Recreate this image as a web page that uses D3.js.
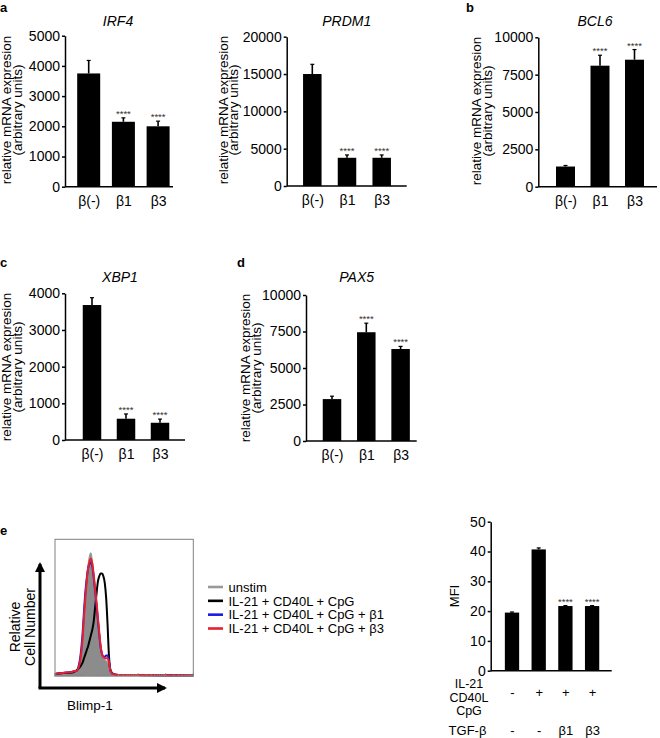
<!DOCTYPE html>
<html><head><meta charset="utf-8">
<script src="https://cdn.jsdelivr.net/npm/d3@7"></script>
<style>
body{margin:0;background:#fff}
text{font-family:"Liberation Sans",Arial,Helvetica,sans-serif;fill:#000}
</style>
</head><body>
<svg id="chart" width="660" height="738"></svg>
<script>
// ---------- DATA ----------
const groups = ["β(-)", "β1", "β3"];
const sigLabels = ["", "****", "****"];

const irf4Values = [3750, 2150, 2000];
const irf4Errors = [430, 130, 170];
const irf4Ticks = [0, 1000, 2000, 3000, 4000, 5000];

const prdm1Values = [15000, 3780, 3780];
const prdm1Errors = [1300, 380, 380];
const prdm1Ticks = [0, 5000, 10000, 15000, 20000];

const bcl6Values = [1350, 8100, 8500];
const bcl6Errors = [70, 700, 680];
const bcl6Ticks = [0, 2500, 5000, 7500, 10000];

const xbp1Values = [3680, 580, 470];
const xbp1Errors = [200, 130, 100];
const xbp1Ticks = [0, 1000, 2000, 3000, 4000];

const pax5Values = [2870, 7450, 6300];
const pax5Errors = [200, 620, 180];
const pax5Ticks = [0, 2500, 5000, 7500, 10000];

const mfiGroups = ["unstim", "stim", "stimB1", "stimB3"];
const mfiValues = [19.5, 40.7, 21.7, 21.7];
const mfiErrors = [0.2, 0.5, 0.15, 0.15];
const mfiSig = ["", "", "****", "****"];
const mfiTicks = [0, 10, 20, 30, 40, 50];
const stimRow = ["-", "+", "+", "+"];
const tgfRow = ["-", "-", "β1", "β3"];
const stimRowLabels = ["IL-21", "CD40L", "CpG"];

// flow cytometry histogram (channel 0-100, relative count 0-100)
const histChannels = [0,4,8,12,14,16,17,18,19,20,21,22,23,24,25,26,27,28,29,30,31,32,33,34,35,36,37,38,39,40,41,42,44,48,55,65,75,85,95,100];
const histUnstim = [1.5,2,2.5,3,3.5,4,6,10,18,30,48,62,72,82,88,90,84,74,63,54,44,33,23,17,14,12,11,10,7,3,1.5,1,0.8,0.6,0.5,0.5,0.4,0.3,0.3,0.3];
const histStim   = [1.5,2,2.2,2.5,3,4.5,5.5,6.5,8,10,13,16,19,22,26,30,34,40,50,60,69,73,75,75,73,68,57,38,15,5,2.5,1.5,1,0.8,0.8,0.6,0.6,0.5,0.5,0.5];
const histB1     = [1.5,2,2.5,3,3.5,4,7,12,20,32,48,62,72,79,82,83,80,72,62,52,41,30,21,16,14,14,15,15,11,4,2,1.5,1,0.8,0.8,0.7,0.6,0.6,0.5,0.5];
const histB3     = [1.5,2,2.5,3,3.5,4,6,10,17,28,44,58,70,79,84,86,82,74,64,54,43,32,22,16,14,13,13,13,10,4,2,1.5,1,0.8,0.8,0.7,0.6,0.6,0.5,0.5];
const legendLabels = ["unstim", "IL-21 + CD40L + CpG", "IL-21 + CD40L + CpG + β1", "IL-21 + CD40L + CpG + β3"];
const legendColors = ["#999999", "#000000", "#1a1ae6", "#e8202a"];

// ---------- DRAW ----------
const svg = d3.select("#chart");
const FONT = 14;

function panelLetter(t, x, y) {
  svg.append("text").attr("x", x).attr("y", y).attr("font-size", 13).attr("font-weight", "bold").text(t);
}

function rotatedLines(lines, xs, yc, size) {
  lines.forEach((l, i) => {
    svg.append("text")
      .attr("transform", `translate(${xs[i]},${yc}) rotate(-90)`)
      .attr("text-anchor", "middle").attr("font-size", size).text(l);
  });
}

function barPanel(cfg, cats, values, errs, sig, ticks) {
  const g = svg.append("g");
  const y = d3.scaleLinear().domain([0, ticks[ticks.length - 1]]).range([cfg.yBot, cfg.yTop]);
  const x = d3.scalePoint().domain(cats).range([cfg.c0, cfg.c0 + cfg.step * (cats.length - 1)]);

  g.selectAll("rect.bar").data(cats).join("rect")
    .attr("x", d => x(d) - cfg.w / 2).attr("width", cfg.w)
    .attr("y", (d, i) => y(values[i])).attr("height", (d, i) => y(0) - y(values[i]))
    .attr("fill", "#000");
  g.selectAll("line.err").data(cats).join("line")
    .attr("x1", d => x(d)).attr("x2", d => x(d))
    .attr("y1", (d, i) => y(values[i])).attr("y2", (d, i) => y(values[i] + errs[i]))
    .attr("stroke", "#000").attr("stroke-width", 1.6);
  g.selectAll("line.cap").data(cats).join("line")
    .attr("x1", d => x(d) - 2).attr("x2", d => x(d) + 2)
    .attr("y1", (d, i) => y(values[i] + errs[i])).attr("y2", (d, i) => y(values[i] + errs[i]))
    .attr("stroke", "#000").attr("stroke-width", 1.2);
  g.selectAll("text.sig").data(cats).join("text")
    .attr("x", d => x(d)).attr("y", (d, i) => y(values[i] + errs[i]) - 1)
    .attr("text-anchor", "middle").attr("font-size", 9.5).style("fill", "#333")
    .text((d, i) => sig[i]);

  const ya = g.append("g").attr("transform", `translate(${cfg.ax},0)`)
    .call(d3.axisLeft(y).tickValues(ticks).tickSize(3).tickSizeOuter(0).tickPadding(2).tickFormat(d3.format("d")));
  ya.selectAll("text").attr("font-size", FONT).style("font-family", "Liberation Sans, Arial, sans-serif");
  ya.selectAll("path,line").attr("stroke", "#000").attr("stroke-width", 1.5);

  g.append("line").attr("x1", cfg.ax).attr("x2", cfg.axEnd).attr("y1", cfg.yBot).attr("y2", cfg.yBot)
    .attr("stroke", "#000").attr("stroke-width", 1.6);
  if (cfg.xLabels !== false) {
    const xa = g.append("g").attr("transform", `translate(0,${cfg.yBot})`)
      .call(d3.axisBottom(x).tickSize(0).tickPadding(9));
    xa.select(".domain").remove();
    xa.selectAll("text").attr("font-size", FONT).style("font-family", "Liberation Sans, Arial, sans-serif");
  }
  if (cfg.title) {
    svg.append("text").attr("x", cfg.tx).attr("y", cfg.ty).attr("text-anchor", "middle")
      .attr("font-size", 14).attr("font-style", "italic").text(cfg.title);
  }
  return {x, y};
}

const yl = ["relative mRNA expresion", "(arbitrary units)"];

// a
panelLetter("a", 0, 12);
barPanel({ax: 65, axEnd: 173, c0: 88.7, step: 34.7, w: 23, yTop: 35.7, yBot: 186.7, title: "IRF4", tx: 118, ty: 26},
  groups, irf4Values, irf4Errors, sigLabels, irf4Ticks);
rotatedLines(yl, [11, 21.5], 110, 13.5);

barPanel({ax: 286.7, axEnd: 406.7, c0: 312.3, step: 34.7, w: 18.5, yTop: 36.7, yBot: 186, title: "PRDM1", tx: 346.7, ty: 26},
  groups, prdm1Values, prdm1Errors, sigLabels, prdm1Ticks);
rotatedLines(yl, [228, 238], 110, 13.5);

// b
panelLetter("b", 466, 12);
barPanel({ax: 538.3, axEnd: 657, c0: 565.5, step: 34.5, w: 19, yTop: 37.3, yBot: 186.7, title: "BCL6", tx: 595, ty: 26},
  groups, bcl6Values, bcl6Errors, sigLabels, bcl6Ticks);
rotatedLines(yl, [481, 491.5], 111, 13.5);

// c
panelLetter("c", 0, 267);
barPanel({ax: 65, axEnd: 185, c0: 92, step: 34, w: 18.5, yTop: 293.3, yBot: 440, title: "XBP1", tx: 120, ty: 282},
  groups, xbp1Values, xbp1Errors, sigLabels, xbp1Ticks);
rotatedLines(yl, [11, 21.5], 367, 13.5);

// d
panelLetter("d", 237, 267);
barPanel({ax: 306, axEnd: 416.7, c0: 332, step: 34.3, w: 18.5, yTop: 295, yBot: 441, title: "PAX5", tx: 356.7, ty: 282},
  groups, pax5Values, pax5Errors, sigLabels, pax5Ticks);
rotatedLines(yl, [250, 260.5], 368, 13.5);

// e - histogram
panelLetter("e", 0, 535);
const box = {x0: 55, x1: 193.3, y0: 539.3, y1: 676};
const hx = d3.scaleLinear().domain([0, 100]).range([box.x0, box.x1]);
const hy = d3.scaleLinear().domain([0, 100]).range([box.y1, box.y0]);
const hg = svg.append("g");
const hpts = arr => histChannels.map((c, i) => [c, arr[i]]);
hg.append("path").datum(hpts(histUnstim))
  .attr("d", d3.area().x(d => hx(d[0])).y0(hy(0)).y1(d => hy(d[1])).curve(d3.curveMonotoneX))
  .attr("fill", "#8c8c8c").attr("stroke", "#9a9a9a").attr("stroke-width", 1.2);
[[histStim, "#000000"], [histB1, "#1a1ae6"], [histB3, "#e8202a"]].forEach(([arr, col]) => {
  hg.append("path").datum(hpts(arr))
    .attr("d", d3.line().x(d => hx(d[0])).y(d => hy(d[1])).curve(d3.curveMonotoneX))
    .attr("fill", "none").attr("stroke", col).attr("stroke-width", 2);
});
const lx = d3.scaleLog().domain([1, 1e5]).range([box.x0, box.x1]);
hg.selectAll("line.lt").data(lx.ticks()).join("line")
  .attr("x1", d => lx(d)).attr("x2", d => lx(d))
  .attr("y1", box.y1).attr("y2", d => box.y1 - (Math.log10(d) % 1 === 0 ? 3 : 1.8))
  .attr("stroke", "#888").attr("stroke-width", 0.8);
hg.append("rect").attr("x", box.x0).attr("y", box.y0).attr("width", box.x1 - box.x0).attr("height", box.y1 - box.y0)
  .attr("fill", "none").attr("stroke", "#808080").attr("stroke-width", 1);

const defs = svg.append("defs");
defs.append("marker").attr("id", "ah").attr("viewBox", "0 0 10 10").attr("refX", 8).attr("refY", 5)
  .attr("markerWidth", 3.4).attr("markerHeight", 3.4).attr("orient", "auto")
  .append("path").attr("d", "M0,0 L10,5 L0,10 Z").attr("fill", "#000");
svg.append("line").attr("x1", 40).attr("y1", 688).attr("x2", 40).attr("y2", 564)
  .attr("stroke", "#000").attr("stroke-width", 3).attr("marker-end", "url(#ah)");
svg.append("line").attr("x1", 38.5).attr("y1", 688).attr("x2", 165).attr("y2", 688)
  .attr("stroke", "#000").attr("stroke-width", 3).attr("marker-end", "url(#ah)");
rotatedLines(["Relative", "Cell Number"], [20, 34.5], 627, 14);
svg.append("text").attr("x", 90).attr("y", 710).attr("text-anchor", "middle").attr("font-size", 13.5).text("Blimp-1");

// legend
const lg = svg.append("g");
const ly = d3.scalePoint().domain(legendLabels).range([587, 628.5]);
lg.selectAll("line").data(legendLabels).join("line")
  .attr("x1", 208).attr("x2", 223).attr("y1", d => ly(d)).attr("y2", d => ly(d))
  .attr("stroke", (d, i) => legendColors[i]).attr("stroke-width", 2.6);
lg.selectAll("text").data(legendLabels).join("text")
  .attr("x", 228.5).attr("y", d => ly(d) + 4.8).attr("font-size", 13).text(d => d);

// MFI bar chart
const mfi = barPanel({ax: 490.7, axEnd: 611.7, c0: 512, step: 26.7, w: 14.3, yTop: 521.7, yBot: 670.7, xLabels: false},
  mfiGroups, mfiValues, mfiErrors, mfiSig, mfiTicks);
rotatedLines(["MFI"], [459], 596, 13);
const r1 = svg.append("g").attr("transform", "translate(0,670.7)")
  .call(d3.axisBottom(mfi.x).tickSize(0).tickPadding(17).tickFormat((d, i) => stimRow[i]));
r1.select(".domain").remove();
r1.selectAll("text").attr("font-size", 13).style("font-family", "Liberation Sans, Arial, sans-serif");
const r2 = svg.append("g").attr("transform", "translate(0,670.7)")
  .call(d3.axisBottom(mfi.x).tickSize(0).tickPadding(55).tickFormat((d, i) => tgfRow[i]));
r2.select(".domain").remove();
r2.selectAll("text").attr("font-size", 13).style("font-family", "Liberation Sans, Arial, sans-serif");
svg.append("text").attr("x", 469).attr("y", 688).attr("text-anchor", "middle").attr("font-size", 12.5)
  .selectAll("tspan").data(stimRowLabels).join("tspan")
  .attr("x", 469).attr("dy", (d, i) => i === 0 ? 0 : 13.5).text(d => d);
svg.append("text").attr("x", 467.5).attr("y", 735).attr("text-anchor", "middle").attr("font-size", 13).text("TGF-β");
</script>
</body></html>
